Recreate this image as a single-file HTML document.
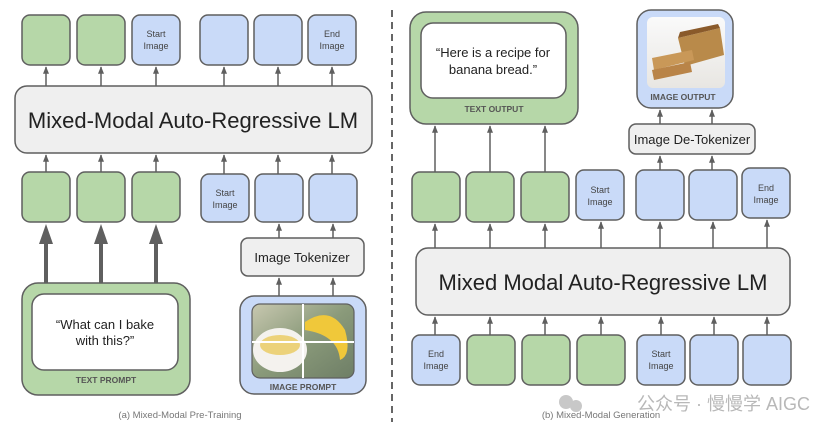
<!DOCTYPE html>
<html><head><meta charset="utf-8"><style>
html,body{margin:0;padding:0;background:#fff;width:836px;height:435px;overflow:hidden}
text{font-family:"Liberation Sans",Arial,sans-serif}
</style></head><body>
<svg width="836" height="435" viewBox="0 0 836 435" xmlns="http://www.w3.org/2000/svg">
<defs>
<marker id="a" viewBox="0 0 10 10" refX="9" refY="5" markerWidth="5" markerHeight="5" orient="auto"><path d="M0,1 L10,5 L0,9z" fill="#5f5f5f"/></marker>
<linearGradient id="g1" x1="0" y1="0" x2="1" y2="1"><stop offset="0" stop-color="#c8c8b0"/><stop offset=".5" stop-color="#8a9a7a"/><stop offset="1" stop-color="#6e7e66"/></linearGradient>
<linearGradient id="g2" x1="0" y1="0" x2="0" y2="1"><stop offset="0" stop-color="#fafafa"/><stop offset="1" stop-color="#e8e6e2"/></linearGradient>
</defs>
<g stroke="#5f5f5f" stroke-width="1.5" fill="none">
<rect x="22" y="15" width="48" height="50" rx="8" fill="#b6d7a8"/>
<rect x="77" y="15" width="48" height="50" rx="8" fill="#b6d7a8"/>
<rect x="132" y="15" width="48" height="50" rx="8" fill="#c9daf8"/>
<rect x="200" y="15" width="48" height="50" rx="8" fill="#c9daf8"/>
<rect x="254" y="15" width="48" height="50" rx="8" fill="#c9daf8"/>
<rect x="308" y="15" width="48" height="50" rx="8" fill="#c9daf8"/>
<rect x="15" y="86" width="357" height="67" rx="12" fill="#efefef"/>
<rect x="22" y="172" width="48" height="50" rx="8" fill="#b6d7a8"/>
<rect x="77" y="172" width="48" height="50" rx="8" fill="#b6d7a8"/>
<rect x="132" y="172" width="48" height="50" rx="8" fill="#b6d7a8"/>
<rect x="201" y="174" width="48" height="48" rx="8" fill="#c9daf8"/>
<rect x="255" y="174" width="48" height="48" rx="8" fill="#c9daf8"/>
<rect x="309" y="174" width="48" height="48" rx="8" fill="#c9daf8"/>
<rect x="241" y="238" width="123" height="38" rx="7" fill="#efefef"/>
<rect x="22" y="283" width="168" height="112" rx="16" fill="#b6d7a8"/>
<rect x="32" y="294" width="146" height="76" rx="12" fill="#fff"/>
<rect x="240" y="296" width="126" height="98" rx="14" fill="#c9daf8"/>
</g>
<rect x="252" y="304" width="102" height="74" rx="8" fill="url(#g1)" stroke="#5f5f5f" stroke-width="1.2"/>
<ellipse cx="280" cy="350" rx="27" ry="22" fill="#f4f2ee"/>
<ellipse cx="280" cy="345" rx="20" ry="10" fill="#ecd27a"/>
<path d="M305,322 Q330,305 345,330 Q352,355 340,360 Q338,335 305,330z" fill="#f0c83a"/>
<line x1="303" y1="304" x2="303" y2="378" stroke="#fff" stroke-width="2"/>
<line x1="252" y1="342" x2="354" y2="342" stroke="#fff" stroke-width="2"/>
<g stroke="#5f5f5f" stroke-width="1.5" marker-end="url(#a)">
<line x1="46" y1="86" x2="46" y2="67"/><line x1="101" y1="86" x2="101" y2="67"/><line x1="156" y1="86" x2="156" y2="67"/>
<line x1="224" y1="86" x2="224" y2="67"/><line x1="278" y1="86" x2="278" y2="67"/><line x1="332" y1="86" x2="332" y2="67"/>
<line x1="46" y1="172" x2="46" y2="155"/><line x1="101" y1="172" x2="101" y2="155"/><line x1="156" y1="172" x2="156" y2="155"/>
<line x1="224" y1="174" x2="224" y2="155"/><line x1="278" y1="174" x2="278" y2="155"/><line x1="332" y1="174" x2="332" y2="155"/>
<line x1="279" y1="238" x2="279" y2="224"/><line x1="333" y1="238" x2="333" y2="224"/>
<line x1="279" y1="296" x2="279" y2="278"/><line x1="333" y1="296" x2="333" y2="278"/>
</g>
<g stroke="#5f5f5f" stroke-width="4">
<line x1="46" y1="283" x2="46" y2="240"/><line x1="101" y1="283" x2="101" y2="240"/><line x1="156" y1="283" x2="156" y2="240"/>
</g>
<g fill="#5f5f5f">
<path d="M39,244 L46,224 L53,244z"/><path d="M94,244 L101,224 L108,244z"/><path d="M149,244 L156,224 L163,244z"/>
</g>
<g fill="#444" font-size="9" text-anchor="middle">
<text x="156" y="37">Start</text><text x="156" y="49">Image</text>
<text x="332" y="37">End</text><text x="332" y="49">Image</text>
<text x="225" y="196">Start</text><text x="225" y="208">Image</text>
</g>
<text x="193" y="128" font-size="22" text-anchor="middle" fill="#222">Mixed-Modal Auto-Regressive LM</text>
<text x="302" y="262" font-size="13" text-anchor="middle" fill="#222">Image Tokenizer</text>
<text x="105" y="329" font-size="13" text-anchor="middle" fill="#222">“What can I bake</text>
<text x="105" y="345" font-size="13" text-anchor="middle" fill="#222">with this?”</text>
<text x="106" y="383" font-size="8.5" font-weight="bold" text-anchor="middle" fill="#555">TEXT PROMPT</text>
<text x="303" y="390" font-size="8.5" font-weight="bold" text-anchor="middle" fill="#555">IMAGE PROMPT</text>
<text x="180" y="418" font-size="9.5" text-anchor="middle" fill="#777">(a) Mixed-Modal Pre-Training</text>
<line x1="392" y1="10" x2="392" y2="422" stroke="#666" stroke-width="2" stroke-dasharray="7,5"/>
<g stroke="#5f5f5f" stroke-width="1.5">
<rect x="410" y="12" width="168" height="112" rx="16" fill="#b6d7a8"/>
<rect x="421" y="23" width="145" height="75" rx="12" fill="#fff"/>
<rect x="637" y="10" width="96" height="98" rx="14" fill="#c9daf8"/>
<rect x="629" y="124" width="126" height="30" rx="7" fill="#efefef"/>
<rect x="412" y="172" width="48" height="50" rx="8" fill="#b6d7a8"/>
<rect x="466" y="172" width="48" height="50" rx="8" fill="#b6d7a8"/>
<rect x="521" y="172" width="48" height="50" rx="8" fill="#b6d7a8"/>
<rect x="576" y="170" width="48" height="50" rx="8" fill="#c9daf8"/>
<rect x="636" y="170" width="48" height="50" rx="8" fill="#c9daf8"/>
<rect x="689" y="170" width="48" height="50" rx="8" fill="#c9daf8"/>
<rect x="742" y="168" width="48" height="50" rx="8" fill="#c9daf8"/>
<rect x="416" y="248" width="374" height="67" rx="12" fill="#efefef"/>
<rect x="412" y="335" width="48" height="50" rx="8" fill="#c9daf8"/>
<rect x="467" y="335" width="48" height="50" rx="8" fill="#b6d7a8"/>
<rect x="522" y="335" width="48" height="50" rx="8" fill="#b6d7a8"/>
<rect x="577" y="335" width="48" height="50" rx="8" fill="#b6d7a8"/>
<rect x="637" y="335" width="48" height="50" rx="8" fill="#c9daf8"/>
<rect x="690" y="335" width="48" height="50" rx="8" fill="#c9daf8"/>
<rect x="743" y="335" width="48" height="50" rx="8" fill="#c9daf8"/>
</g>
<rect x="647" y="17" width="78" height="71" rx="6" fill="url(#g2)"/>
<path d="M678,38 L720,28 L724,55 L685,66z" fill="#b98a4a"/>
<path d="M678,38 L720,28 L718,24 L680,32z" fill="#8a5a2a"/>
<path d="M652,58 L692,50 L694,60 L654,70z" fill="#c99858"/>
<path d="M652,70 L690,62 L692,72 L654,80z" fill="#b98448"/>
<g stroke="#5f5f5f" stroke-width="1.5" marker-end="url(#a)">
<line x1="435" y1="172" x2="435" y2="126"/><line x1="490" y1="172" x2="490" y2="126"/><line x1="545" y1="172" x2="545" y2="126"/>
<line x1="660" y1="170" x2="660" y2="156"/><line x1="712" y1="170" x2="712" y2="156"/>
<line x1="660" y1="124" x2="660" y2="110"/><line x1="712" y1="124" x2="712" y2="110"/>
<line x1="435" y1="248" x2="435" y2="224"/><line x1="490" y1="248" x2="490" y2="224"/><line x1="545" y1="248" x2="545" y2="224"/>
<line x1="601" y1="248" x2="601" y2="222"/><line x1="660" y1="248" x2="660" y2="222"/><line x1="713" y1="248" x2="713" y2="222"/><line x1="767" y1="248" x2="767" y2="220"/>
<line x1="435" y1="335" x2="435" y2="317"/><line x1="490" y1="335" x2="490" y2="317"/><line x1="545" y1="335" x2="545" y2="317"/>
<line x1="601" y1="335" x2="601" y2="317"/><line x1="661" y1="335" x2="661" y2="317"/><line x1="714" y1="335" x2="714" y2="317"/><line x1="767" y1="335" x2="767" y2="317"/>
</g>
<g fill="#444" font-size="9" text-anchor="middle">
<text x="600" y="193">Start</text><text x="600" y="205">Image</text>
<text x="766" y="191">End</text><text x="766" y="203">Image</text>
<text x="436" y="357">End</text><text x="436" y="369">Image</text>
<text x="661" y="357">Start</text><text x="661" y="369">Image</text>
</g>
<text x="493" y="57" font-size="13" text-anchor="middle" fill="#222">“Here is a recipe for</text>
<text x="493" y="74" font-size="13" text-anchor="middle" fill="#222">banana bread.”</text>
<text x="494" y="112" font-size="8.5" font-weight="bold" text-anchor="middle" fill="#555">TEXT OUTPUT</text>
<text x="683" y="100" font-size="8.5" font-weight="bold" text-anchor="middle" fill="#555">IMAGE OUTPUT</text>
<text x="692" y="144" font-size="13" text-anchor="middle" fill="#222">Image De-Tokenizer</text>
<text x="603" y="290" font-size="22" text-anchor="middle" fill="#222">Mixed Modal Auto-Regressive LM</text>
<text x="601" y="418" font-size="9.5" text-anchor="middle" fill="#777">(b) Mixed-Modal Generation</text>
<text x="810" y="410" font-size="18" text-anchor="end" fill="#b8b8b8" font-family="Liberation Sans,'Noto Sans CJK SC',sans-serif">公众号 · 慢慢学 AIGC</text>
<circle cx="566" cy="402" r="7" fill="#c8c8c8"/><circle cx="576" cy="406" r="6" fill="#c8c8c8"/>
</svg>
</body></html>
